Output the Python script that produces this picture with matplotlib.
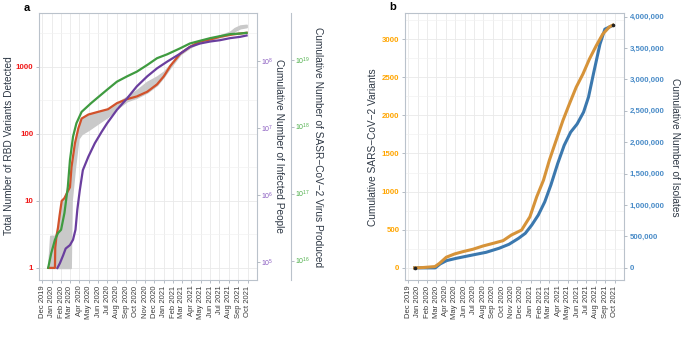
import numpy as np
import pandas as pd
import matplotlib
matplotlib.use("Agg")
import matplotlib.pyplot as plt
import matplotlib.dates as mdates
from matplotlib.ticker import FixedLocator, NullLocator, FuncFormatter, LogFormatterMathtext, NullFormatter

plt.rcParams["font.family"] = ["Liberation Sans", "DejaVu Sans"]
plt.rcParams["mathtext.default"] = "regular"

# ---------------- panel a data ----------------
rbd_dates = ["2019-12-21", "2020-01-12", "2020-01-13", "2020-01-17", "2020-01-22", "2020-01-27",
             "2020-02-03", "2020-02-12", "2020-02-23", "2020-03-01", "2020-03-06", "2020-03-17",
             "2020-03-28", "2020-04-08", "2020-04-30", "2020-06-01", "2020-07-03", "2020-08-01",
             "2020-09-03", "2020-10-05", "2020-11-08", "2020-12-10", "2021-01-01", "2021-01-23",
             "2021-02-24", "2021-03-27", "2021-04-29", "2021-06-01", "2021-07-03", "2021-08-05",
             "2021-09-07", "2021-09-28"]
rbd_counts = [1, 1, 2, 3, 4, 6, 10, 11, 14, 16, 32, 72, 120, 170, 195, 214, 234, 288,
              331, 363, 427, 550, 724, 1047, 1585, 1995, 2400, 2570, 2820, 3020, 3160, 3240]

band_dates = ["2019-12-21", "2019-12-28", "2020-01-12", "2020-01-20", "2020-02-01", "2020-02-12",
              "2020-03-03", "2020-03-06", "2020-03-17", "2020-03-28", "2020-04-08", "2020-04-30",
              "2020-06-01", "2020-07-03", "2020-08-01", "2020-09-03", "2020-10-05", "2020-11-08",
              "2020-12-10", "2021-01-01", "2021-01-23", "2021-02-24", "2021-03-27", "2021-04-29",
              "2021-06-01", "2021-07-03", "2021-08-05", "2021-08-20", "2021-09-07", "2021-09-28"]
band_lo = [1, 1, 1, 1, 1, 1, 1, 10, 32, 85, 100, 115, 145, 182, 240, 310, 350, 420,
           540, 720, 1000, 1550, 1950, 2350, 2550, 2800, 3050, 3450, 3800, 3950]
band_hi = [1, 3, 3, 3.5, 9, 11.5, 17, 32, 72, 120, 170, 195, 214, 234, 290, 360, 450, 600,
           720, 850, 1100, 1650, 2050, 2450, 2650, 2950, 3350, 3800, 4150, 4250]

virus_dates = ["2019-12-21", "2019-12-31", "2020-01-12", "2020-01-22", "2020-02-01", "2020-02-12",
               "2020-02-23", "2020-03-01", "2020-03-11", "2020-03-22", "2020-04-08", "2020-05-09",
               "2020-05-27", "2020-06-30", "2020-08-01", "2020-09-03", "2020-10-05", "2020-11-08",
               "2020-12-10", "2021-01-12", "2021-02-24", "2021-03-27", "2021-04-29", "2021-06-01",
               "2021-07-03", "2021-08-05", "2021-09-07", "2021-09-28"]
virus_produced = [7.8e15, 1.29e16, 2.04e16, 2.57e16, 2.88e16, 5.13e16, 1.26e17, 3.16e17,
                  7.08e17, 1.12e18, 1.66e18, 2.24e18, 2.63e18, 3.55e18, 4.68e18, 5.62e18,
                  6.61e18, 8.32e18, 1.05e19, 1.20e19, 1.48e19, 1.74e19, 1.91e19, 2.09e19,
                  2.24e19, 2.40e19, 2.45e19, 2.51e19]

infected_dates = ["2020-01-20", "2020-01-28", "2020-02-08", "2020-02-16", "2020-03-01", "2020-03-11",
                  "2020-03-19", "2020-03-25", "2020-04-02", "2020-04-12", "2020-04-30", "2020-05-21",
                  "2020-06-12", "2020-06-30", "2020-08-01", "2020-09-03", "2020-10-05", "2020-11-08",
                  "2020-12-10", "2021-01-12", "2021-02-24", "2021-03-27", "2021-04-29", "2021-06-01",
                  "2021-07-03", "2021-08-05", "2021-09-07", "2021-09-28"]
infected_people = [8.1e4, 9.5e4, 1.26e5, 1.58e5, 1.78e5, 2.14e5, 3.02e5, 6.03e5, 1.17e6,
                   2.34e6, 3.72e6, 5.9e6, 8.7e6, 1.17e7, 1.86e7, 2.75e7, 4.17e7, 5.89e7,
                   7.76e7, 9.77e7, 1.29e8, 1.62e8, 1.82e8, 1.95e8, 2.04e8, 2.19e8, 2.29e8, 2.40e8]

# ---------------- panel b data ----------------
var_dates = ["2019-12-22", "2020-01-20", "2020-02-10", "2020-02-26", "2020-03-12", "2020-04-03",
             "2020-04-30", "2020-05-27", "2020-06-28", "2020-07-31", "2020-09-02", "2020-10-04",
             "2020-10-31", "2020-12-03", "2020-12-30", "2021-01-21", "2021-02-12", "2021-03-03",
             "2021-03-25", "2021-04-16", "2021-05-07", "2021-05-29", "2021-06-20", "2021-07-11",
             "2021-08-02", "2021-08-23", "2021-09-14", "2021-09-25"]
variants_cum = [0, 5, 12, 17, 60, 140, 183, 213, 244, 287, 322, 357, 431, 496, 670, 932,
                1150, 1411, 1672, 1933, 2150, 2369, 2543, 2739, 2913, 3065, 3161, 3183]

iso_dates = ["2019-12-22", "2020-02-27", "2020-03-14", "2020-04-04", "2020-05-06", "2020-06-28",
             "2020-08-10", "2020-09-21", "2020-10-23", "2020-11-23", "2020-12-15", "2021-01-05",
             "2021-01-26", "2021-02-16", "2021-03-08", "2021-03-30", "2021-04-20", "2021-05-11",
             "2021-06-01", "2021-06-22", "2021-07-08", "2021-07-24", "2021-08-14", "2021-08-30",
             "2021-09-25"]
isolates_cum = [0, 0, 63e3, 116e3, 153e3, 206e3, 248e3, 312e3, 375e3, 470e3, 550e3, 682e3,
                840e3, 1.05e6, 1.32e6, 1.66e6, 1.95e6, 2.16e6, 2.29e6, 2.48e6, 2.72e6, 3.09e6,
                3.56e6, 3.80e6, 3.86e6]

rbd_ticks = [1, 10, 100, 1000]
infected_ticks = [1e5, 1e6, 1e7, 1e8]
virus_ticks = [1e16, 1e17, 1e18, 1e19]
variant_ticks = [0, 500, 1000, 1500, 2000, 2500, 3000]
isolate_ticks = [0, 500000, 1000000, 1500000, 2000000, 2500000, 3000000, 3500000, 4000000]

# ---------------- style ----------------
SPINE = "#BAC2CB"
GRID = "#E9E9E9"
TITLE = "#2E3845"
XLIM = (pd.Timestamp("2019-11-21"), pd.Timestamp("2021-10-31"))
W, H = 685, 338

fig = plt.figure(figsize=(6.85, 3.38), dpi=100)


def frame(ax):
    for sp in ax.spines.values():
        sp.set_color(SPINE)
        sp.set_linewidth(0.8)
    ax.set_xlim(*XLIM)
    ax.xaxis.set_major_locator(mdates.MonthLocator())
    ax.xaxis.set_major_formatter(mdates.DateFormatter("%b %Y"))
    ax.tick_params(axis="x", labelsize=5.5, labelcolor="#3A3A3A", rotation=90,
                   length=2.5, width=0.6, color="#A9B1BA", pad=1.5)
    ax.tick_params(axis="y", length=2.5, width=0.6, color="#A9B1BA", pad=1.5)
    ax.tick_params(axis="y", which="minor", length=0)
    ax.grid(which="major", color=GRID, lw=0.6)
    ax.grid(which="minor", axis="y", color="#F1F1F1", lw=0.5)
    ax.set_axisbelow(True)


# ================= panel a =================
ax = fig.add_axes([39 / W, 1 - 280 / H, 217.7 / W, 267 / H])
frame(ax)
ax.set_yscale("log")
ylo, yhi = -0.181, 3.806
ax.set_ylim(10 ** ylo, 10 ** yhi)
ax.yaxis.set_major_locator(FixedLocator(rbd_ticks))
ax.yaxis.set_major_formatter(FuncFormatter(lambda v, p: f"{v:g}"))
ax.yaxis.set_minor_locator(FixedLocator([10 ** 0.5, 10 ** 1.5, 10 ** 2.5, 10 ** 3.5]))
ax.yaxis.set_minor_formatter(NullFormatter())
ax.tick_params(axis="y", labelsize=5.7, labelcolor="#F01818")
for t in ax.get_yticklabels():
    t.set_fontweight("bold")

ax.fill_between(pd.to_datetime(band_dates), band_lo, band_hi, color="#C9C9C9",
                edgecolor="#C9C9C9", lw=1.2, zorder=2)
ax.plot(pd.to_datetime(rbd_dates), rbd_counts, color="#D2522B", lw=1.6, zorder=4)

axp = ax.twinx()
axp.set_yscale("log")
axp.set_ylim(10 ** (ylo + 4.91), 10 ** (yhi + 4.91))
axp.yaxis.set_major_locator(FixedLocator(infected_ticks))
axp.yaxis.set_major_formatter(LogFormatterMathtext())
axp.yaxis.set_minor_locator(NullLocator())
axp.tick_params(axis="y", labelsize=5, labelcolor="#8A5CC0", length=2, width=0.6,
                color="#A9B1BA", pad=0.8)
for sp in axp.spines.values():
    sp.set_visible(False)
axp.plot(pd.to_datetime(infected_dates), infected_people, color="#6A3E9E", lw=1.6)

axg = ax.twinx()
axg.set_yscale("log")
axg.set_ylim(10 ** (ylo + 15.89), 10 ** (yhi + 15.89))
axg.yaxis.set_major_locator(FixedLocator(virus_ticks))
axg.yaxis.set_major_formatter(LogFormatterMathtext())
axg.yaxis.set_minor_locator(NullLocator())
axg.tick_params(axis="y", labelsize=5, labelcolor="#4DAF4A", length=2, width=0.6,
                color="#A9B1BA", pad=0.8)
for name, sp in axg.spines.items():
    sp.set_visible(name == "right")
axg.spines["right"].set_position(("outward", 24.7))
axg.spines["right"].set_color(SPINE)
axg.spines["right"].set_linewidth(0.8)
axg.plot(pd.to_datetime(virus_dates), virus_produced, color="#3F9B40", lw=1.6)

fig.text(9 / W, 1 - 146 / H, "Total Number of RBD Variants Detected", rotation=90,
         ha="center", va="center", fontsize=7.3, color=TITLE)
fig.text(279.5 / W, 1 - 146 / H, "Cumulative Number of Infected People", rotation=270,
         ha="center", va="center", fontsize=7.3, color=TITLE)
fig.text(318 / W, 1 - 147 / H, "Cumulative Number of SASR\u2212CoV\u22122 Virus Produced",
         rotation=270, ha="center", va="center", fontsize=7.3, color=TITLE)
fig.text(27 / W, 1 - 8 / H, "a", ha="center", va="center", fontsize=8, weight="bold")

# ================= panel b =================
axb = fig.add_axes([405 / W, 1 - 280 / H, 219 / W, 267 / H])
frame(axb)
blo, bhi = -159, 3342
axb.set_ylim(blo, bhi)
axb.yaxis.set_major_locator(FixedLocator(variant_ticks))
axb.yaxis.set_minor_locator(FixedLocator(np.arange(250, 3300, 500)))
axb.tick_params(axis="y", labelsize=5.7, labelcolor="#FFA500")
for t in axb.get_yticklabels():
    t.set_fontweight("bold")

scale = 1214
axb2 = axb.twinx()
axb2.set_ylim(blo * scale, bhi * scale)
axb2.yaxis.set_major_locator(FixedLocator(isolate_ticks))
axb2.yaxis.set_major_formatter(FuncFormatter(lambda v, p: f"{v:,.0f}"))
axb2.tick_params(axis="y", labelsize=5.7, labelcolor="#4A8CC8", length=2.5, width=0.6,
                 color="#A9B1BA", pad=1.5)
for t in axb2.get_yticklabels():
    t.set_fontweight("bold")
for sp in axb2.spines.values():
    sp.set_visible(False)

vd = pd.to_datetime(var_dates)
axb2.plot(pd.to_datetime(iso_dates), isolates_cum, color="#3B78AE", lw=2.2)
axb2.plot(vd, variants_cum, color="#D69339", lw=2.2, transform=axb.transData)
axb2.plot([vd[0], vd[-1]], [variants_cum[0], variants_cum[-1]], "o", color="#222222",
          ms=1.6, transform=axb.transData)
axb2.set_ylim(blo * scale, bhi * scale)
axb.set_xlim(*XLIM)

fig.text(373 / W, 1 - 147 / H, "Cumulative SARS\u2212CoV\u22122 Variants", rotation=90,
         ha="center", va="center", fontsize=7.3, color=TITLE)
fig.text(675 / W, 1 - 147 / H, "Cumulative Number of Isolates", rotation=270,
         ha="center", va="center", fontsize=7.3, color=TITLE)
fig.text(393 / W, 1 - 7 / H, "b", ha="center", va="center", fontsize=8, weight="bold")

fig.savefig("out.png", dpi=100, facecolor="white")
